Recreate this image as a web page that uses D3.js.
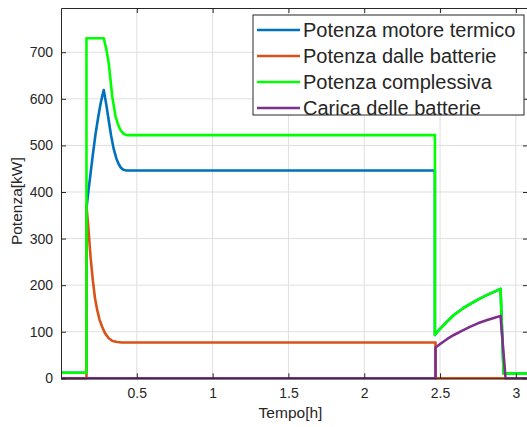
<!DOCTYPE html>
<html><head><meta charset="utf-8">
<script src="https://cdn.jsdelivr.net/npm/d3@7"></script>
<style>body{margin:0;background:#fff;} svg{display:block;font-family:"Liberation Sans",Arial,Helvetica,sans-serif;}</style>
</head><body>
<svg id="chart" width="527" height="427"></svg>
<script>
const seriesNames = ["Potenza motore termico","Potenza dalle batterie","Potenza complessiva","Carica delle batterie"];
const seriesColors = ["#0072BD","#D95319","#00FF00","#7E2F8E"];
const xTicks = [0.5,1,1.5,2,2.5,3];
const yTicks = [0,100,200,300,400,500,600,700];
const xLabel = "Tempo[h]";
const yLabel = "Potenza[kW]";

// Potenza motore termico
const blueT = [0,0.168,0.168,0.18,0.195,0.21,0.228,0.245,0.26,0.272,0.282,0.30,0.315,0.33,0.348,0.365,0.38,0.395,0.41,0.43,2.466,2.466,2.48,2.503,2.55,2.591,2.65,2.70,2.75,2.811,2.86,2.899,2.919,3.08];
const blueV = [12,12,365,400,440,480,525,560,588,606,619,585,553,522,492,472,460,452,448,446,446,93,99,107,123,136,150,160,169,179,186,192,10,10];
// Potenza dalle batterie
const orangeT = [0,0.168,0.168,0.18,0.195,0.21,0.225,0.24,0.255,0.272,0.29,0.315,0.34,0.37,0.40,0.43,2.47,2.47,3.08];
const orangeV = [0,0,370,325,260,210,170,145,125,110,97,86,80,78,77,77,77,0,0];
// Potenza complessiva
const greenT = [0,0.168,0.168,0.282,0.30,0.315,0.338,0.36,0.376,0.392,0.41,0.425,0.44,2.466,2.466,2.48,2.503,2.55,2.591,2.65,2.70,2.75,2.811,2.86,2.899,2.919,3.08];
const greenV = [12,12,730,730,705,676,605,562,545,533,526,523,522,522,93,99,107,123,136,150,160,169,179,186,192,10,10];
// Carica delle batterie
const purpleT = [0,2.47,2.47,2.503,2.55,2.591,2.65,2.70,2.75,2.811,2.86,2.899,2.932,3.08];
const purpleV = [0,0,66,74,85,93,103,111,118,125,130,134,0,0];

const seriesT = [blueT, orangeT, greenT, purpleT];
const seriesV = [blueV, orangeV, greenV, purpleV];

const svg = d3.select("#chart");
const L = 61, R = 528, T = 8, B = 378.3;
const x = d3.scaleLinear().domain([0,3.08]).range([L,R]);
const y = d3.scaleLinear().domain([0,795]).range([B,T]);
const axisColor = "#262626";

// grid
const g = svg.append("g");
g.selectAll("line.gx").data(xTicks).join("line")
  .attr("x1",d=>x(d)).attr("x2",d=>x(d)).attr("y1",T).attr("y2",B)
  .attr("stroke","#dfdfdf").attr("stroke-width",1);
g.selectAll("line.gy").data(yTicks).join("line")
  .attr("y1",d=>y(d)).attr("y2",d=>y(d)).attr("x1",L).attr("x2",R)
  .attr("stroke","#dfdfdf").attr("stroke-width",1);

// lines
svg.append("clipPath").attr("id","clip").append("rect")
  .attr("x",L).attr("y",T-3).attr("width",R-L).attr("height",B-T+6);
const line = d3.line().x(d=>x(d[0])).y(d=>y(d[1]));
const lg = svg.append("g").attr("clip-path","url(#clip)");
seriesT.forEach((ts,i)=>{
  const pts = ts.map((t,j)=>[t, seriesV[i][j]]);
  lg.append("path").attr("d",line(pts)).attr("fill","none")
    .attr("stroke",seriesColors[i]).attr("stroke-width",2.6)
    .attr("stroke-linejoin","round");
});

// axes
const xAxis = svg.append("g").attr("transform",`translate(0,${B})`)
  .call(d3.axisBottom(x).tickValues(xTicks).tickSizeInner(-5).tickSizeOuter(0).tickPadding(10).tickFormat(d3.format("")));
const xTop = svg.append("g").attr("transform",`translate(0,${T})`)
  .call(d3.axisTop(x).tickValues(xTicks).tickSizeInner(-5).tickSizeOuter(0).tickFormat(""));
const yAxis = svg.append("g").attr("transform",`translate(${L},0)`)
  .call(d3.axisLeft(y).tickValues(yTicks).tickSizeInner(-5).tickSizeOuter(0).tickPadding(8));
const yRight = svg.append("g").attr("transform",`translate(${R},0)`)
  .call(d3.axisRight(y).tickValues(yTicks).tickSizeInner(-5).tickSizeOuter(0).tickFormat(""));
[xAxis,xTop,yAxis,yRight].forEach(a=>{
  a.selectAll("path").attr("stroke",axisColor).attr("stroke-width",1);
  a.selectAll("line").attr("stroke",axisColor);
  a.selectAll("text").attr("fill",axisColor).style("font-size","14px");
});

// axis labels
svg.append("text").attr("x",(L+R)/2 - 4).attr("y",418).attr("text-anchor","middle")
  .attr("fill",axisColor).style("font-size","15.5px").text(xLabel);
svg.append("text").attr("transform",`translate(22,${(T+B)/2 + 8}) rotate(-90)`)
  .attr("text-anchor","middle").attr("fill",axisColor).style("font-size","15.5px").text(yLabel);

// legend
const lgx = 253, lgy = 15, lgw = 271, lgh = 100;
const leg = svg.append("g");
leg.append("rect").attr("x",lgx).attr("y",lgy).attr("width",lgw).attr("height",lgh)
  .attr("fill","#fff").attr("stroke",axisColor).attr("stroke-width",1);
seriesNames.forEach((n,i)=>{
  const cy = 30 + 26*i;
  leg.append("line").attr("x1",257).attr("x2",300).attr("y1",cy).attr("y2",cy)
    .attr("stroke",seriesColors[i]).attr("stroke-width",2.6);
  leg.append("text").attr("x",303).attr("y",cy).attr("dy","0.35em")
    .attr("fill",axisColor).style("font-size","20px").text(n);
});
</script>
</body></html>
